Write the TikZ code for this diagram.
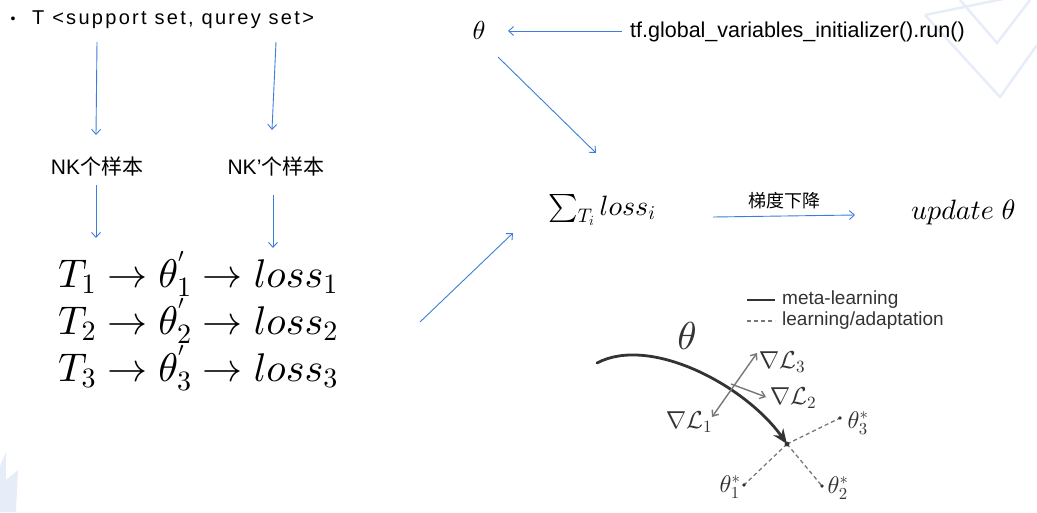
\documentclass[tikz,border=0pt]{standalone}
\usepackage[no-math]{fontspec}
\setmainfont{Liberation Sans}
\newfontfamily\cjk{Noto Sans CJK SC}
\newfontfamily\trackfont[LetterSpace=11.5]{Liberation Sans}
\DeclareFontShape{OML}{cmm}{m}{it}{<->cmmi10}{\skewchar\font'177}
\DeclareFontShape{OMS}{cmsy}{m}{n}{<->cmsy10}{\skewchar\font'60}
\DeclareFontShape{OMX}{cmex}{m}{n}{<->cmex10}{}
\DeclareFontShape{OT1}{cmr}{m}{n}{<->cmr10}{}
\usetikzlibrary{arrows.meta}
\definecolor{arrowblue}{HTML}{3B7DDD}
\definecolor{wmblue}{HTML}{E6EDF9}
\definecolor{figgray}{HTML}{777777}
\definecolor{figdark}{HTML}{333333}
\begin{document}
\begin{tikzpicture}[x=1pt,y=-1pt,
  barrow/.style={draw=arrowblue, line width=0.9pt, -{Straight Barb[length=5pt,width=9pt]}},
  txt/.style={inner sep=0pt, font=\fontsize{21}{24}\selectfont},
  bigmath/.style={inner sep=0pt, anchor=base west, font=\fontsize{40}{45}\selectfont},
  midmath/.style={inner sep=0pt, anchor=base west, font=\fontsize{28}{32}\selectfont},
  lbl/.style={inner sep=0pt, text=figdark, font=\fontsize{24.5}{26}\selectfont},
  star/.style={inner sep=0pt, text=figdark, font=\fontsize{24}{26}\selectfont},
  leg/.style={inner sep=0pt, anchor=west, text=figdark, font=\fontsize{19}{21}\selectfont},
  grad/.style={draw=figgray, line width=1.4pt},
  adapt/.style={draw=figgray, line width=1.3pt, dash pattern=on 4pt off 3pt},
  dotc/.style={fill=figdark}
]
\useasboundingbox (0,0) rectangle (1037,512);
% faint watermark
\draw[wmblue, line width=2.5pt, line join=round] (925,15) -- (1037,-8) (925,15) -- (1000,97) -- (1037,45);
\draw[wmblue, line width=2.5pt] (960,0) -- (997,43) -- (1030,0);
\fill[wmblue] (0,466) -- (6,452) -- (6,480) -- (18,470) -- (16,512) -- (0,512) -- cycle;

% top-left
\node[inner sep=0pt, font=\fontsize{14}{16}\selectfont] (bul) at (13,20) {•};
\node[inner sep=0pt, anchor=west, font=\fontsize{20}{24}\trackfont] (tset) at (32,20) {T <support set, qurey set>};
\coordinate (s1) at (97,42); \coordinate (s1e) at (96,135);
\coordinate (s2) at (276,42); \coordinate (s2e) at (272,130);
\draw[barrow] (s1) -- (s1e);
\draw[barrow] (s2) -- (s2e);
\node[txt] (nk1) at (97,166) {NK{\cjk 个样本}};
\node[txt] (nk2) at (276,166) {NK'{\cjk 个样本}};
\coordinate (n1) at (96,185); \coordinate (n1e) at (96,238);
\coordinate (n2) at (273,195); \coordinate (n2e) at (273,248);
\draw[barrow] (n1) -- (n1e);
\draw[barrow] (n2) -- (n2e);

% tasks
\node[bigmath] (r1) at (58,287) {$T_1\to\theta^{'}_1\to loss_1$};
\node[bigmath] (r2) at (58,334) {$T_2\to\theta^{'}_2\to loss_2$};
\node[bigmath] (r3) at (58,381) {$T_3\to\theta^{'}_3\to loss_3$};

% theta and init
\node[inner sep=0pt, font=\fontsize{26}{30}\selectfont] (th) at (479,30) {$\theta$};
\node[inner sep=0pt, anchor=west, font=\fontsize{21.5}{26}\selectfont] (tf) at (630,32) {tf.global\_variables\_initializer().run()};
\coordinate (tfa) at (622,31); \coordinate (tha) at (508,31);
\draw[barrow] (tfa) -- (tha);

% sum and update
\node[midmath] (sum) at (548,215) {$\sum_{T_i} loss_i$};
\node[midmath] (upd) at (911,219) {$update\ \theta$};
\coordinate (ta) at (498,57); \coordinate (sa) at (596,153);
\draw[barrow] (ta) -- (sa);
\coordinate (ra) at (420,322); \coordinate (rs) at (513,233);
\draw[barrow] (ra) -- (rs);
\coordinate (ga) at (713,217); \coordinate (gb) at (855,215);
\draw[barrow] (ga) -- (gb) node[midway, above=7pt, inner sep=0pt, font=\fontsize{18}{20}\cjk] (gd) {梯度下降};

% legend
\coordinate (l1a) at (747,300); \coordinate (l1b) at (775,300);
\coordinate (l2a) at (747,321); \coordinate (l2b) at (775,321);
\draw[figdark, line width=2.5pt] (l1a) -- (l1b);
\draw[adapt] (l2a) -- (l2b);
\node[leg] (lg1) at (782,300) {meta-learning};
\node[leg] (lg2) at (782,321) {learning/adaptation};

% meta-learning figure
\node[inner sep=0pt, text=figdark, font=\fontsize{39}{44}\selectfont] (bth) at (687,336) {$\theta$};
\coordinate (cs) at (597,363);
\coordinate (cc) at (787,444);
\coordinate (d3) at (840,418);
\coordinate (d2) at (822,486);
\coordinate (d1) at (744,485);
\draw[adapt] (cc) -- (d3);
\draw[adapt] (cc) -- (d2);
\draw[adapt] (cc) -- (d1);
\draw[figdark, line width=2.8pt, line cap=round, -{Stealth[length=15pt,width=12pt,inset=5pt]}]
  (cs) .. controls (650,335) and (745,385) .. (cc);
\coordinate (g1) at (712,417); \coordinate (g3) at (757,353);
\coordinate (g2s) at (731,384); \coordinate (g2) at (766,397);
\draw[grad, {Straight Barb[length=5pt,width=8pt]}-{Straight Barb[length=5pt,width=8pt]}] (g1) -- (g3);
\draw[grad, -{Straight Barb[length=5pt,width=8pt]}] (g2s) -- (g2);
\fill[dotc] (cc) circle (2.4pt);
\fill[dotc] (d3) circle (1.8pt);
\fill[dotc] (d2) circle (1.8pt);
\fill[dotc] (d1) circle (1.8pt);
\node[lbl] (L3) at (782,362) {$\nabla\mathcal{L}_3$};
\node[lbl] (L2) at (793,398) {$\nabla\mathcal{L}_2$};
\node[lbl] (L1) at (689,422) {$\nabla\mathcal{L}_1$};
\node[star] (t3) at (858,423) {$\theta^*_3$};
\node[star] (t2) at (838,488) {$\theta^*_2$};
\node[star] (t1) at (730,487) {$\theta^*_1$};
\end{tikzpicture}
\end{document}
